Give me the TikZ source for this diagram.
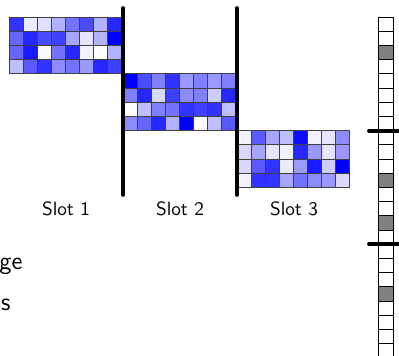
\documentclass[tikz,border=0pt]{standalone}
\begin{document}
\begin{tikzpicture}[x=0.52pt,y=-0.52pt,
  cell/.style={draw=black!75, line width=0.45pt},
  slotbar/.style={line width=1.9pt, line cap=round},
  colcell/.style={draw=black, line width=0.5pt},
  lbl/.style={font=\sffamily, inner sep=0pt}]
\useasboundingbox (0,0) rectangle (399,356);
% grid macro via nested foreach
\foreach \gx/\gy/\vals in {
  9/17/{{80,8,12,30,55,70,30,85},{60,85,70,75,35,10,30,100},{60,90,2,55,85,5,0,30},{25,65,80,45,55,40,85,75}},
  123/73.8/{{100,70,50,80,40,50,40,50},{50,85,15,75,45,50,20,85},{0,25,50,55,80,75,80,25},{45,60,85,30,100,2,25,65}},
  237/130.6/{{5,65,35,25,95,5,10,45},{15,35,10,5,85,40,10,40},{15,65,80,8,40,90,20,100},{5,80,80,35,55,45,40,15}}}{
  \foreach \row [count=\r from 0] in \vals {
    \foreach \v [count=\c from 0] in \row {
      \filldraw[cell, fill=blue!\v!white] (\gx+\c*14, \gy+\r*14.2) rectangle ++(14,14.2);
    }
  }
}
% slot separators
\draw[slotbar] (123,8) -- (123,195);
\draw[slotbar] (237,8) -- (237,195);
% labels
\node[lbl] (s1) at (66,209) {Slot 1};
\node[lbl] (s2) at (180,209) {Slot 2};
\node[lbl] (s3) at (294,209) {Slot 3};
\node[lbl, font=\sffamily\fontsize{13}{15}\selectfont, anchor=base east] (t1) at (23,270) {ge};
\node[lbl, font=\sffamily\fontsize{13}{15}\selectfont, anchor=base east] (t2) at (11,311) {s};
% right column
\foreach \k in {0,...,24} {
  \draw[colcell] (378,17+\k*14.2) rectangle ++(15,14.2);
}
\foreach \k in {2,11,14,19} {
  \filldraw[colcell, fill=black!50] (378,17+\k*14.2) rectangle ++(15,14.2);
}
\draw[slotbar, line width=2pt] (369,130.6) -- (410,130.6);
\draw[slotbar, line width=2pt] (369,244.2) -- (410,244.2);
\end{tikzpicture}
\end{document}
